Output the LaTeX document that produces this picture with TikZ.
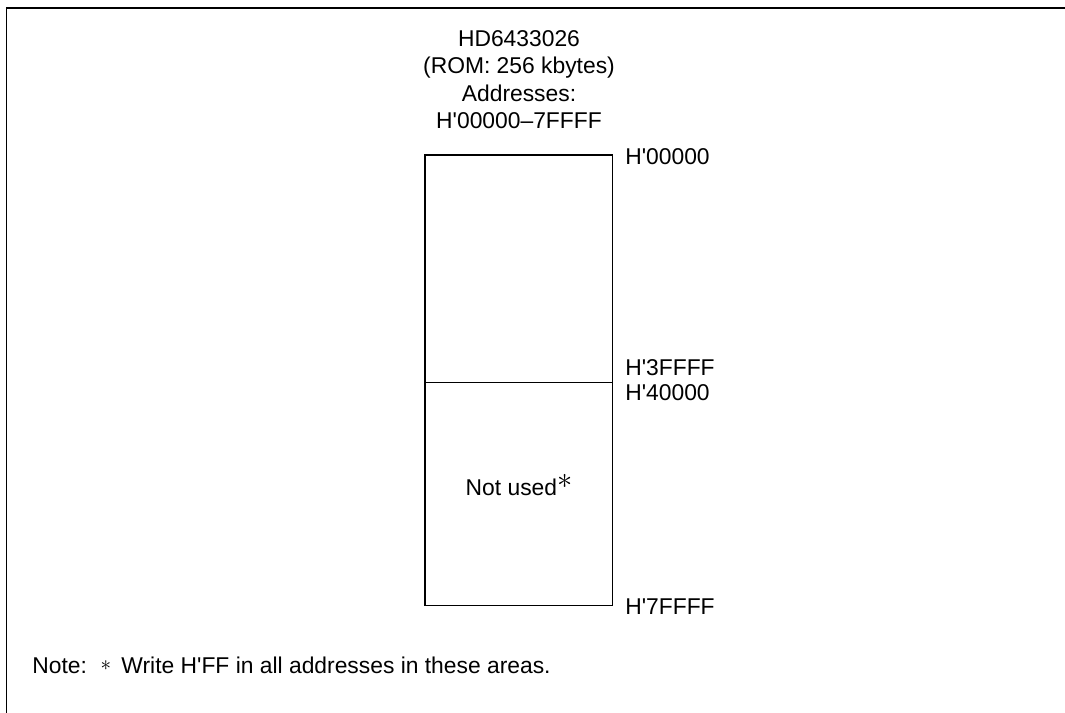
\documentclass[tikz,border=0pt]{standalone}
\usepackage{fontspec}
\setmainfont{Liberation Sans}
\usetikzlibrary{positioning}

\newcommand{\hexaddr}[1]{H\textquotesingle#1}
\newcommand{\notemark}{{\fontsize{16}{16}\selectfont$\ast$}}

\begin{document}
\begin{tikzpicture}[x=0.02cm, y=-0.02cm,
    font=\fontsize{13}{15.6}\selectfont,
    region/.style={draw, line width=0.6pt, minimum width=3.76cm,
        inner sep=0pt, outer sep=0pt},
    addr/.style={anchor=west, inner sep=0pt}]
    \useasboundingbox (0,0) rectangle (1065,713);

    % frame
    \draw[line width=0.04cm] (6.5,713) -- (6.5,8.5) -- (1065,8.5);

    % heading
    \node[align=center] (title) at (519,79.5)
        {HD6433026\\(ROM: 256 kbytes)\\Addresses:\\\hexaddr{00000}--7FFFF};

    % memory map
    \node[region, minimum height=4.56cm, anchor=north west] (rom) at (425,155) {};
    \node[region, minimum height=4.46cm, below=0pt of rom] (unused) {};
    \node (notused) at (519,485) {Not used\raisebox{0.32em}{\notemark}};

    \node[addr] (a0) at ([shift={(12,2)}]rom.north east) {\hexaddr{00000}};
    \node[addr] (a1) at ([shift={(12,-15)}]rom.south east) {\hexaddr{3FFFF}};
    \node[addr] (a2) at ([shift={(12,10)}]unused.north east) {\hexaddr{40000}};
    \node[addr] (a3) at ([shift={(12,1)}]unused.south east) {\hexaddr{7FFFF}};

    % note
    \node[anchor=west, inner sep=0pt] (note) at (32,665)
        {Note:\hspace{0.6em}\raisebox{0.12em}{\fontsize{12}{12}\selectfont$\ast$}\hspace{0.45em}Write \hexaddr{FF} in all addresses in these areas.};
\end{tikzpicture}
\end{document}
